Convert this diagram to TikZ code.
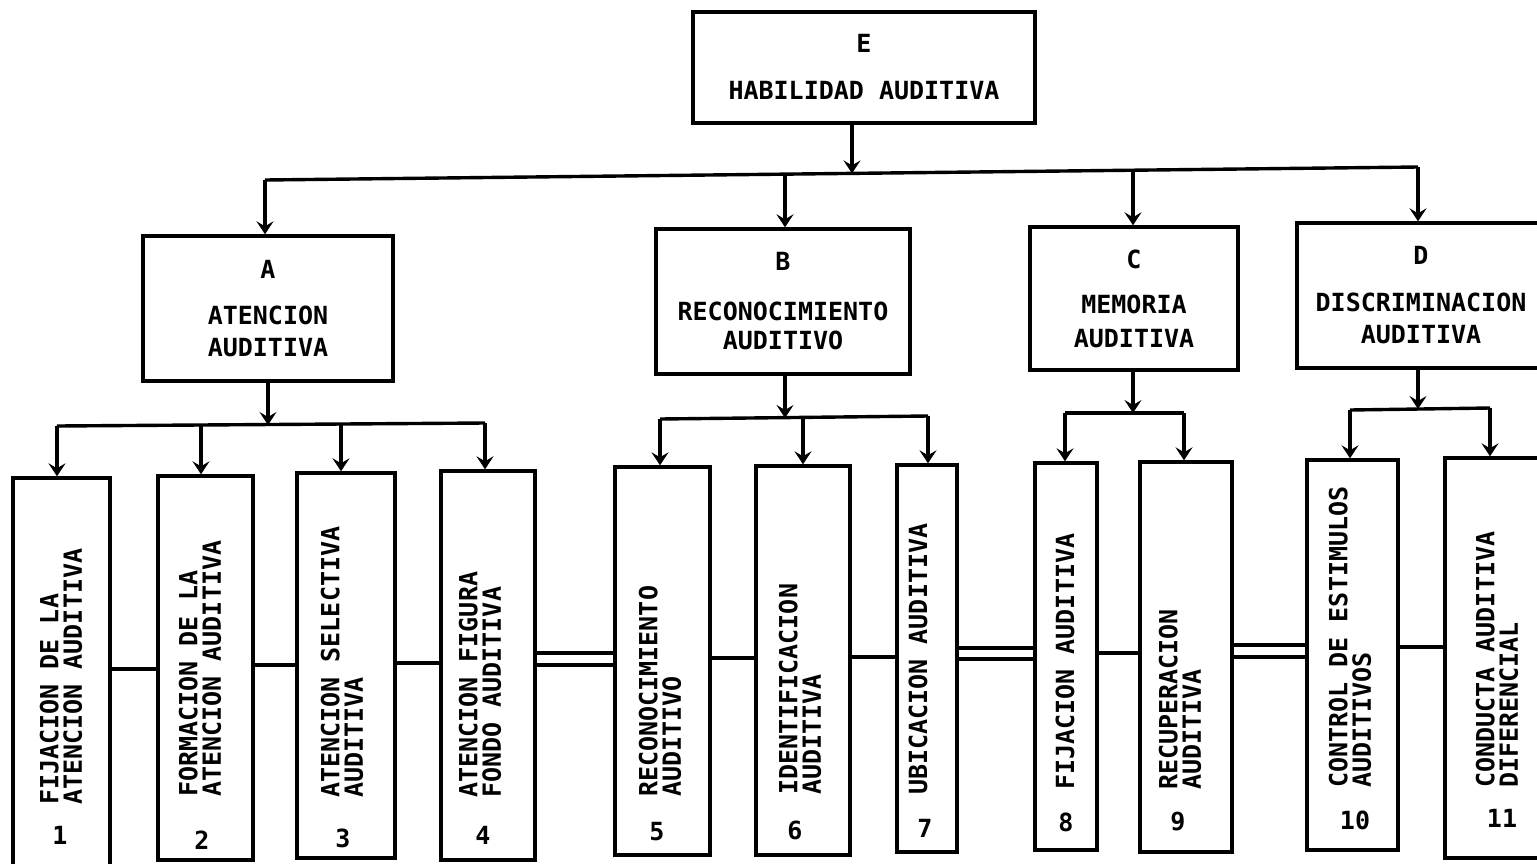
\documentclass[tikz,border=0pt]{standalone}
\usepackage{fontspec}
\setmonofont{DejaVu Sans Mono}
\usetikzlibrary{arrows.meta}
\begin{document}
\begin{tikzpicture}[x=0.5pt,y=-0.5pt,
  lw/.style={line width=1.7pt},
  topbox/.style={draw, lw, inner sep=0pt, align=center, font=\ttfamily\bfseries\fontsize{12.5}{16}\selectfont},
  lowbox/.style={draw, lw, inner sep=0pt},
  vtext/.style={rotate=90, anchor=west, inner sep=0pt, align=left, font=\ttfamily\bfseries\fontsize{12.5}{11.8}\selectfont},
  numtext/.style={inner sep=0pt, font=\ttfamily\bfseries\fontsize{12.5}{14}\selectfont},
  link/.style={lw},
  arr/.style={lw, -{Stealth[length=6.5pt,width=8.5pt,inset=2.5pt]}}
]
\useasboundingbox (0,0) rectangle (1537,863);

% top level
\node[topbox, minimum width=171pt, minimum height=55.5pt] (E) at (864,67.5) {E\\[7.5pt]HABILIDAD AUDITIVA};

% second level
\node[topbox, minimum width=125pt, minimum height=72.5pt] (A) at (268,308.5) {A\\[7pt]ATENCION\\AUDITIVA};
\node[topbox, minimum width=127pt, minimum height=72.5pt] (B) at (783,301.5) {B\\[9pt]RECONOCIMIENTO\\[-1.5pt]AUDITIVO};
\node[topbox, minimum width=104pt, minimum height=71.5pt] (C) at (1134,298.5) {C\\[6.5pt]MEMORIA\\[1pt]AUDITIVA};
\node[topbox, minimum width=124pt, minimum height=72.5pt] (D) at (1421,295.5) {D\\[7.5pt]DISCRIMINACION\\AUDITIVA};

% main bus
\coordinate (bA) at (265,180);
\coordinate (bE) at (852,173.4);
\coordinate (bB) at (785,174.1);
\coordinate (bC) at (1133,170.2);
\coordinate (bD) at (1418,167);
\draw[arr] (E.south -| bE) -- (bE);
\draw[lw] (bA) -- (bD);
\draw[arr] (bA) -- (bA |- A.north);
\draw[arr] (bB) -- (bB |- B.north);
\draw[arr] (bC) -- (bC |- C.north);
\draw[arr] (bD) -- (bD |- D.north);

% bottom boxes
\node[lowbox, minimum width=48.5pt, minimum height=198.5pt] (b1) at (61.5,676.5) {};
\node[lowbox, minimum width=47.5pt, minimum height=192pt] (b2) at (205.5,668) {};
\node[lowbox, minimum width=49pt, minimum height=192.5pt] (b3) at (346,665.5) {};
\node[lowbox, minimum width=47pt, minimum height=194.5pt] (b4) at (488,665.5) {};
\node[lowbox, minimum width=47.5pt, minimum height=194pt] (b5) at (662.5,661) {};
\node[lowbox, minimum width=47pt, minimum height=194.5pt] (b6) at (803,660.5) {};
\node[lowbox, minimum width=30pt, minimum height=193.5pt] (b7) at (927,658.5) {};
\node[lowbox, minimum width=31pt, minimum height=193.5pt] (b8) at (1066,656.5) {};
\node[lowbox, minimum width=46pt, minimum height=195pt] (b9) at (1186,657) {};
\node[lowbox, minimum width=45.5pt, minimum height=195pt] (b10) at (1352.5,655) {};
\node[lowbox, minimum width=52.5pt, minimum height=200pt] (b11) at (1497.5,658) {};

% vertical texts
\node[vtext] (t1) at (61,805) {FIJACION DE LA\\ATENCION AUDITIVA};
\node[vtext] (t2) at (200,797) {FORMACION DE LA\\ATENCION AUDITIVA};
\node[vtext] (t3) at (342,798) {ATENCION SELECTIVA\\AUDITIVA};
\node[vtext] (t4) at (480,798) {ATENCION FIGURA\\FONDO AUDITIVA};
\node[vtext] (t5) at (660,797) {RECONOCIMIENTO\\AUDITIVO};
\node[vtext] (t6) at (800,795) {IDENTIFICACION\\AUDITIVA};
\node[vtext] (t7) at (918,795) {UBICACION AUDITIVA};
\node[vtext] (t8) at (1065,790) {FIJACION AUDITIVA};
\node[vtext] (t9) at (1180,790) {RECUPERACION\\AUDITIVA};
\node[vtext] (t10) at (1350,788) {CONTROL DE ESTIMULOS\\AUDITIVOS};
\node[vtext] (t11) at (1497,788) {CONDUCTA AUDITIVA\\DIFERENCIAL};

% numbers
\node[numtext] (n1) at (60,835) {1};
\node[numtext] (n2) at (202,840) {2};
\node[numtext] (n3) at (343,838) {3};
\node[numtext] (n4) at (483,835) {4};
\node[numtext] (n5) at (657,832) {5};
\node[numtext] (n6) at (795,830) {6};
\node[numtext] (n7) at (925,828) {7};
\node[numtext] (n8) at (1066,822) {8};
\node[numtext] (n9) at (1178,822) {9};
\node[numtext] (n10) at (1355,820) {10};
\node[numtext] (n11) at (1502,818) {11};

% sub bus A
\coordinate (sA) at (268,425);
\coordinate (sA1) at (57,426);
\coordinate (sA2) at (201,425);
\coordinate (sA3) at (341,424);
\coordinate (sA4) at (485,423);
\draw[arr] (A.south -| sA) -- (sA);
\draw[lw] (sA1) -- (sA4);
\draw[arr] (sA1) -- (sA1 |- b1.north);
\draw[arr] (sA2) -- (sA2 |- b2.north);
\draw[arr] (sA3) -- (sA3 |- b3.north);
\draw[arr] (sA4) -- (sA4 |- b4.north);

% sub bus B
\coordinate (sB) at (785,418);
\coordinate (sB1) at (660,419);
\coordinate (sB2) at (803,418);
\coordinate (sB3) at (928,416);
\draw[arr] (B.south -| sB) -- (sB);
\draw[lw] (sB1) -- (sB3);
\draw[arr] (sB1) -- (sB1 |- b5.north);
\draw[arr] (sB2) -- (sB2 |- b6.north);
\draw[arr] (sB3) -- (sB3 |- b7.north);

% sub bus C
\coordinate (sC) at (1133,413);
\coordinate (sC1) at (1065,413);
\coordinate (sC2) at (1184,413);
\draw[arr] (C.south -| sC) -- (sC);
\draw[lw] (sC1) -- (sC2);
\draw[arr] (sC1) -- (sC1 |- b8.north);
\draw[arr] (sC2) -- (sC2 |- b9.north);

% sub bus D
\coordinate (sD) at (1418,409);
\coordinate (sD1) at (1350,410);
\coordinate (sD2) at (1490,408);
\draw[arr] (D.south -| sD) -- (sD);
\draw[lw] (sD1) -- (sD2);
\draw[arr] (sD1) -- (sD1 |- b10.north);
\draw[arr] (sD2) -- (sD2 |- b11.north);

% horizontal links
\coordinate (h12) at (0,669);
\coordinate (h23) at (0,665);
\coordinate (h34) at (0,663);
\coordinate (h45a) at (0,653);
\coordinate (h45b) at (0,665);
\coordinate (h56) at (0,658);
\coordinate (h67) at (0,657);
\coordinate (h78a) at (0,648);
\coordinate (h78b) at (0,659);
\coordinate (h89) at (0,653);
\coordinate (h910a) at (0,645);
\coordinate (h910b) at (0,657);
\coordinate (h1011) at (0,647);
\draw[link] (b1.east |- h12) -- (b2.west |- h12);
\draw[link] (b2.east |- h23) -- (b3.west |- h23);
\draw[link] (b3.east |- h34) -- (b4.west |- h34);
\draw[link] (b4.east |- h45a) -- (b5.west |- h45a);
\draw[link] (b4.east |- h45b) -- (b5.west |- h45b);
\draw[link] (b5.east |- h56) -- (b6.west |- h56);
\draw[link] (b6.east |- h67) -- (b7.west |- h67);
\draw[link] (b7.east |- h78a) -- (b8.west |- h78a);
\draw[link] (b7.east |- h78b) -- (b8.west |- h78b);
\draw[link] (b8.east |- h89) -- (b9.west |- h89);
\draw[link] (b9.east |- h910a) -- (b10.west |- h910a);
\draw[link] (b9.east |- h910b) -- (b10.west |- h910b);
\draw[link] (b10.east |- h1011) -- (b11.west |- h1011);
\end{tikzpicture}
\end{document}
